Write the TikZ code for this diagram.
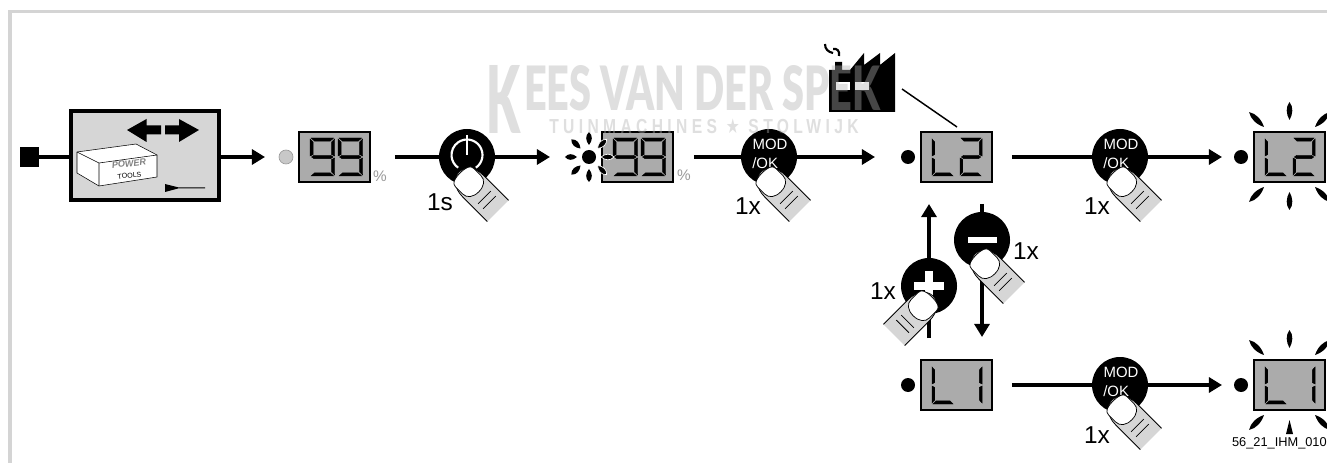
\documentclass[tikz,border=0pt]{standalone}
\usepackage{graphicx}
\usepackage{fontspec}
\setmainfont{Liberation Sans}
\newfontfamily\starfont{DejaVu Sans}
\newfontfamily\wmfont[LetterSpace=28]{Liberation Sans}
\newfontfamily\wmheavy{Lato Black}
\usetikzlibrary{arrows.meta}
\definecolor{framegray}{HTML}{D4D4D4}
\definecolor{panelgray}{HTML}{D6D6D6}
\definecolor{lcdgray}{HTML}{ABABAB}
\definecolor{ledgray}{HTML}{C8C8C8}
\definecolor{pctgray}{HTML}{9A9A9A}
\tikzset{
  x=0.75pt,y=-0.75pt,
  wire/.style={line width=3.4pt,draw=black},
  flow/.style={wire,-{Triangle[length=9.8pt,width=11.2pt]}},
  lcd/.style={draw=black,fill=lcdgray,line width=1.6pt,minimum width=53.2pt,minimum height=37.4pt,inner sep=0pt,outer sep=0pt},
  lcdlit/.style={lcd,line width=2.1pt},
  btn/.style={circle,fill=black,minimum size=42pt,inner sep=0pt,outer sep=0pt},
  dot/.style={circle,fill=black,minimum size=10.5pt,inner sep=0pt,outer sep=0pt},
  led/.style={circle,fill=ledgray,draw=pctgray,line width=0.5pt,minimum size=10.5pt,inner sep=0pt,outer sep=0pt},
  lab/.style={font=\fontsize{18.3}{20}\selectfont,inner sep=0pt,text=black},
  modtxt/.style={font=\fontsize{11.2}{12}\selectfont,text=white,inner sep=0pt},
  pct/.style={font=\fontsize{11.5}{12}\selectfont,text=pctgray,inner sep=0pt},
  wmark/.style={text=gray!62.5,text opacity=.4,inner sep=0pt},
  finger/.pic={
    \fill[panelgray] (55,-15)--(20,-15) .. controls (8,-15) and (0,-8) .. (0,0) .. controls (0,8) and (8,15) .. (20,15) -- (55,15) -- cycle;
    \draw[black,line width=0.6pt] (55,-15)--(20,-15) .. controls (8,-15) and (0,-8) .. (0,0) .. controls (0,8) and (8,15) .. (20,15) -- (55,15);
    \draw[black,line width=0.55pt,fill=white] (8,-13)--(18,-13) .. controls (24,-13) and (28,-8) .. (28,0) .. controls (28,8) and (24,13) .. (18,13) -- (8,13) .. controls (3,13) and (1.5,8) .. (1.5,0) .. controls (1.5,-8) and (3,-13) .. (8,-13) -- cycle;
    \draw[black,line width=0.6pt] (36,-9)--(36,9) (43,-9)--(43,9);
  }
}
\def\sega{\filldraw (1,0)--(23,0)--(19.5,3.2)--(4.5,3.2)--cycle;}
\def\segb{\filldraw (24,1)--(24,18)--(21,16.6)--(21,4)--cycle;}
\def\segc{\filldraw (24,20)--(24,37)--(21,34)--(21,21.4)--cycle;}
\def\segd{\filldraw (1,38)--(23,38)--(19.5,34.8)--(4.5,34.8)--cycle;}
\def\sege{\filldraw (0,20)--(0,37)--(3,34)--(3,21.4)--cycle;}
\def\segf{\filldraw (0,1)--(0,18)--(3,16.6)--(3,4)--cycle;}
\def\segg{\filldraw (1.5,19)--(4,17.3)--(20,17.3)--(22.5,19)--(20,20.7)--(4,20.7)--cycle;}
\newcommand\lcddigit[4]{\begin{scope}[shift={(#1,#2)},xscale=#3,line width=0.3pt]\foreach \s in {#4}{\csname seg\s\endcsname}\end{scope}}
\newcommand\lcdray[4]{\fill[shift={(#1,#2)},rotate=#3,xscale=#4] (0,0) .. controls (6,3.5) and (13,4) .. (18,0) .. controls (13,-4) and (6,-3.5) .. (0,0) -- cycle;}
\newcommand\lcdrayw[4]{\filldraw[draw=white,line width=0.5pt,shift={(#1,#2)},rotate=#3,xscale=#4] (0,0) .. controls (6,3.5) and (13,4) .. (18,0) .. controls (13,-4) and (6,-3.5) .. (0,0) -- cycle;}
\newcommand\flashrays[2]{%
  \lcdray{#1-25.5}{#2-30}{135}{1.17}
  \lcdray{#1}{#2-37}{90}{1}
  \lcdray{#1+25.5}{#2-30}{45}{1.17}
  \lcdray{#1-25.5}{#2+30}{225}{1.17}
  \lcdray{#1+25.5}{#2+30}{315}{1.17}
}
\begin{document}
\begin{tikzpicture}
\useasboundingbox (0,0) rectangle (1327,463);
\clip (0,0) rectangle (1327,463);
\fill[white] (0,0) rectangle (1327,463);
% frame
\fill[framegray] (8,10) rectangle (12,463);
\fill[framegray] (8,10) rectangle (1327,13);

% factory
\fill (829,112)--(829,70)--(835,70)--(835,62)--(842,62)--(842,70)--(850,70)--(864,53)--(864,65)--(880,53)--(880,65)--(895,53)--(895,112)--cycle;
\draw[line width=1.6pt] (825,44) .. controls (825,49) and (828,52) .. (833,53);
\draw[line width=1.6pt] (833,49) .. controls (837,48) and (840,51) .. (839,56);
\fill[white] (836,82) rectangle (850,90);
\fill[white] (855,82) rectangle (869,90);

% main nodes
\node[minimum size=14.3pt,fill=black,inner sep=0pt,outer sep=0pt] (src) at (29.5,157) {};
\node[draw=black,fill=panelgray,line width=2.7pt,minimum width=111.3pt,minimum height=67pt,inner sep=0pt,outer sep=0pt] (machine) at (145,155.5) {};
\node[led] (led1) at (286,157) {};
\node[lcd] (disp1) at (334.5,157) {};
\node[dot] (sun) at (589,157) {};
\node[lcd] (disp2) at (637.5,157) {};
\node[dot] (dot3) at (908,157) {};
\node[lcd] (disp3) at (956.5,157) {};
\node[dot] (dot4) at (1241,157) {};
\node[lcdlit] (disp4) at (1289.5,157) {};
\node[dot] (dot5) at (908,385) {};
\node[lcd] (disp5) at (956.5,385) {};
\node[dot] (dot6) at (1241,385) {};
\node[lcdlit] (disp6) at (1289.5,385) {};
\coordinate (upS) at (929,338);
\coordinate (upE) at (929,204);
\coordinate (downS) at (982,204);
\coordinate (downE) at (982,337);
\coordinate (factoryEnd) at (902,89);
\coordinate (lcdEnd) at (957,127);

% connectors
\draw[wire] (src) -- (src -| machine.west);
\draw[flow,shorten >=10.5pt] (machine.east |- led1) -- (led1.west);
\draw[flow,shorten <=18.7pt,shorten >=24pt] (disp1.east) -- (sun.west);
\draw[flow,shorten <=15.7pt,shorten >=19.5pt] (disp2.east) -- (dot3.west);
\draw[flow,shorten <=15pt,shorten >=9pt] (disp3.east) -- (dot4.west);
\draw[flow,shorten <=15pt,shorten >=9pt] (disp5.east) -- (dot6.west);
\draw[flow] (upS) -- (upE);
\draw[flow] (downS) -- (downE);
\draw[line width=1.1pt] (factoryEnd) -- (lcdEnd);

% buttons
\node[btn] (power) at (467,157) {};
\node[btn] (mod1) at (769,157) {};
\node[btn] (mod2) at (1120,157) {};
\node[btn] (mod3) at (1120,385) {};
\node[btn] (plus) at (929,286) {};
\node[btn] (minus) at (982,240) {};

% power symbol
\draw[white,line width=1.6pt] (467,155) ++(55:15.5) arc (55:-235:15.5);
\draw[white,line width=1.6pt] (467,135) -- (467,155);
% plus and minus signs
\fill[white] (914,282) rectangle (944,290);
\fill[white] (925,271) rectangle (933,301);
\fill[white] (968,237) rectangle (997,243);

% MOD labels
\foreach \cx/\cy in {769/157,1120/157,1120/385}{
  \node[modtxt] at (\cx+1,\cy-13) {MOD};
  \node[modtxt,anchor=west] at (\cx-17,\cy+6) {/OK};
}

% fingers
\pic[rotate=-45] at (459,172) {finger};
\pic[rotate=-45] at (761,172) {finger};
\pic[rotate=-45] at (1112,172) {finger};
\pic[rotate=-45] at (1112,400) {finger};
\pic[rotate=-135] at (933,296) {finger};
\pic[rotate=-45] at (975,254) {finger};

% press labels
\node[lab] at (440,202) {1s};
\node[lab] at (748,206) {1x};
\node[lab] at (1097,206) {1x};
\node[lab] at (1097,435) {1x};
\node[lab] at (1026,251) {1x};
\node[lab] at (883,291) {1x};

% percent
\node[pct] at (380,176) {\%};
\node[pct] at (684,175) {\%};

% digits
\lcddigit{310}{138}{1.03}{a,b,c,d,f,g}
\lcddigit{338}{138}{1.03}{a,b,c,d,f,g}
\lcddigit{613}{138}{1.03}{a,b,c,d,f,g}
\lcddigit{641}{138}{1.03}{a,b,c,d,f,g}
\lcddigit{932}{138}{.92}{d,e,f}
\lcddigit{960}{138}{.92}{a,b,d,e,g}
\lcddigit{1265}{138}{.92}{d,e,f}
\lcddigit{1293}{138}{.92}{a,b,d,e,g}
\lcddigit{932}{366}{.92}{d,e,f}
\lcddigit{960}{366}{.92}{b,c}
\lcddigit{1265}{366}{.92}{d,e,f}
\lcddigit{1293}{366}{.92}{b,c}

% sun rays
\lcdray{589}{145}{90}{.72}
\lcdray{589}{169}{270}{.72}
\lcdray{577}{157}{180}{.67}
\lcdray{580.5}{148.5}{135}{.72}
\lcdray{580.5}{165.5}{225}{.72}
\lcdrayw{601}{157}{0}{.72}
\lcdrayw{597.5}{148.5}{45}{.72}
\lcdrayw{597.5}{165.5}{315}{.72}

% flash rays
\flashrays{1289.5}{157}
\lcdray{1289.5}{192}{270}{1}
\flashrays{1289.5}{385}
\fill (1286,434)--(1289.5,420)--(1293,434)--cycle;

% machine contents
\fill (127,130)--(146.5,119)--(146.5,125.5)--(161,125.5)--(161,134.5)--(146.5,134.5)--(146.5,142)--cycle;
\fill (199,130)--(179,119)--(179,125.5)--(165,125.5)--(165,134.5)--(179,134.5)--(179,142)--cycle;
\draw[fill=white,line width=0.4pt] (77,152)--(136,144)--(157,155)--(157,177)--(99,186)--(77,173)--cycle;
\draw[line width=0.4pt] (77,152)--(99,163)--(157,155) (99,163)--(99,186);
\node[rotate=7,inner sep=0pt,text=gray,font=\fontsize{6.8}{7}\selectfont\bfseries\itshape] at (129,163.5) {POWER};
\node[rotate=7,inner sep=0pt,font=\fontsize{5.3}{6}\selectfont] at (129.5,175.5) {TOOLS};
\fill (165,184)--(178,187.3)--(205,187.3)--(205,188.5)--(178,188.5)--(165,192)--cycle;

% serial number
\node[inner sep=0pt,anchor=east,font=\fontsize{9.6}{10}\selectfont] at (1327,443) {56\_21\_IHM\_010};

% watermark
\node[wmark,anchor=north west] at (486,65) {\resizebox{25.5pt}{51pt}{\wmheavy K}};
\node[wmark,anchor=north west] at (524,65) {\resizebox{267pt}{33.75pt}{\wmheavy EES VAN DER SPEK}};
\node[wmark,anchor=north west] at (549,119) {\resizebox{232pt}{11pt}{\wmfont\bfseries TUINMACHINES {\starfont ★} STOLWIJK}};
\end{tikzpicture}
\end{document}
